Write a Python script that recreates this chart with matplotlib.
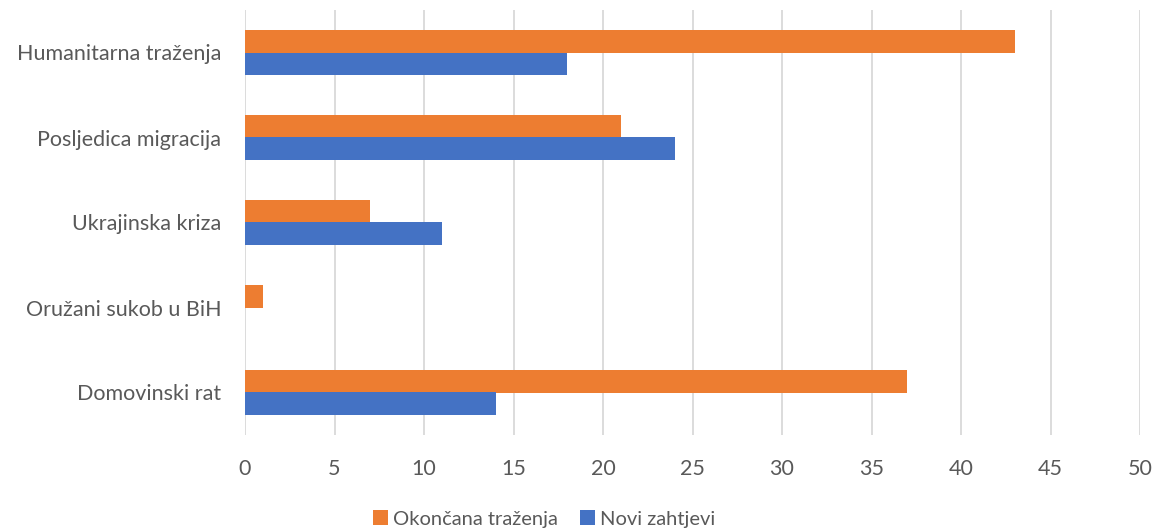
import matplotlib
matplotlib.use("Agg")
import matplotlib.pyplot as plt
import numpy as np

categories = ["Humanitarna traženja", "Posljedica migracija", "Ukrajinska kriza",
              "Oružani sukob u BiH", "Domovinski rat"]
okoncana = [43, 21, 7, 1, 37]
novi = [18, 24, 11, 0, 14]
series_names = ["Okončana traženja", "Novi zahtjevi"]
xticks = list(range(0, 51, 5))

plt.rcParams['font.family'] = ['Lato', 'DejaVu Sans']
text_color = "#595959"

fig = plt.figure(figsize=(11.57, 5.30), dpi=100)
ax = fig.add_axes([245/1157, 1 - 435/530, (1140-245)/1157, 425/530])

n = len(categories)
y = np.arange(n)[::-1].astype(float)
h = 0.265
ax.barh(y + h/2, okoncana, height=h, color="#ED7D31", label=series_names[0], zorder=3)
ax.barh(y - h/2, novi, height=h, color="#4472C4", label=series_names[1], zorder=3)

ax.set_xlim(0, 50)
ax.set_ylim(-0.5, n - 0.5)
ax.set_xticks(xticks)
ax.set_xticklabels([str(t) for t in xticks])
ax.set_yticks(y)
ax.set_yticklabels(categories)
ax.grid(axis='x', color="#D9D9D9", linewidth=1.3, zorder=0)
for s in ax.spines.values():
    s.set_visible(False)
ax.tick_params(axis='both', length=0, labelsize=15.5, colors=text_color)
ax.tick_params(axis='x', pad=17)
ax.tick_params(axis='y', pad=17)

handles, labels = ax.get_legend_handles_labels()
fig.legend(handles, labels, loc='center', bbox_to_anchor=(544/1157, 1 - 519/530),
           ncol=2, frameon=False, fontsize=14.5, labelcolor=text_color,
           handlelength=0.75, handleheight=0.75, handletextpad=0.25, columnspacing=1.1)

fig.savefig("out.png", dpi=100)
